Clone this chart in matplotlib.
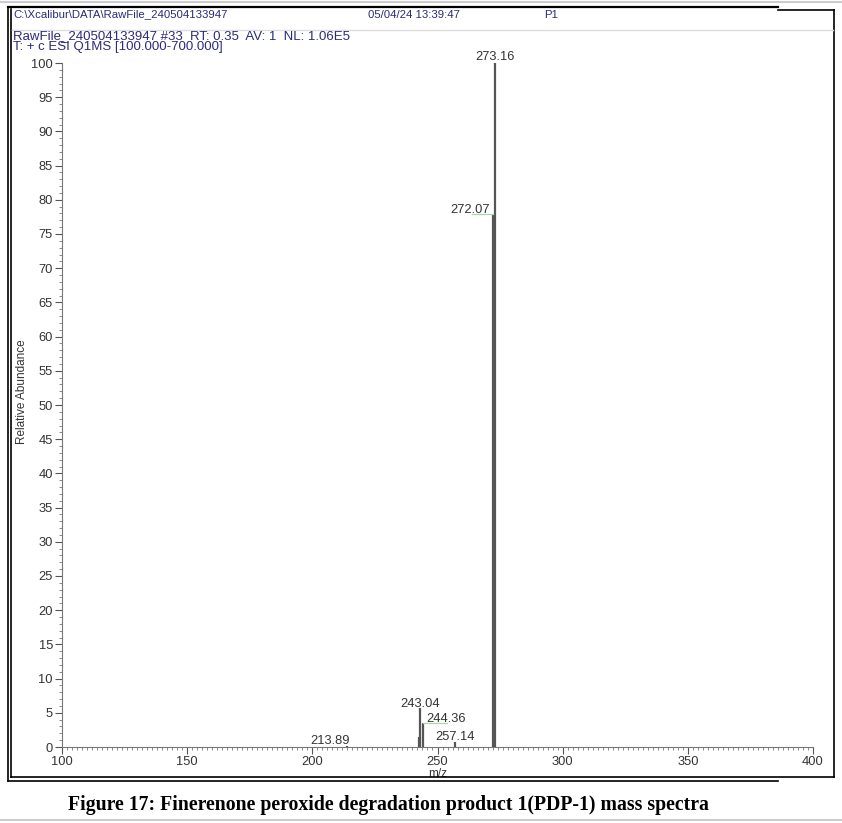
import matplotlib
matplotlib.use("Agg")
import matplotlib.pyplot as plt
from matplotlib.lines import Line2D
from matplotlib.ticker import MultipleLocator

# ---- data ----
mz = [213.89, 242.60, 243.04, 244.36, 257.14, 272.07, 273.16]
abundance = [0.2, 1.5, 5.7, 3.5, 0.7, 77.9, 100.0]
peak_labels = ["213.89", "", "243.04", "244.36", "257.14", "272.07", "273.16"]
label_dx = [-6.8, 0, 0, 9.0, 0.0, -9.0, 0]     # label offsets (m/z units)
label_dy = [0.24, 0, 0.15, 0.15, 0.32, 0.15, 0.37]
x_ticks = [100, 150, 200, 250, 300, 350, 400]
y_ticks = list(range(0, 101, 5))
header_path = "C:\\Xcalibur\\DATA\\RawFile_240504133947"
header_date = "05/04/24 13:39:47"
header_page = "P1"
scan_line1 = "RawFile_240504133947 #33  RT: 0.35  AV: 1  NL: 1.06E5"
scan_line2 = "T: + c ESI Q1MS [100.000-700.000]"
caption = "Figure 17: Finerenone peroxide degradation product 1(PDP-1) mass spectra"

W, H = 842, 823
fig = plt.figure(figsize=(W / 100, H / 100), dpi=100)
plt.rcParams['font.family'] = ['Liberation Sans', 'DejaVu Sans']

def fx(px):
    return px / W

def fy(py):
    return 1 - py / H

def seg(x0, y0, x1, y1, **kw):
    fig.add_artist(Line2D([fx(x0), fx(x1)], [fy(y0), fy(y1)], **kw))

# page lines and frames
seg(0, 2, W, 2, color="#cccccc", lw=1.5)
seg(0, 820, W, 820, color="#cccccc", lw=1.5)
# inner (screenshot) frame: top, left, bottom
seg(8, 7, 778, 7, color="black", lw=1.6)
seg(8, 7, 8, 781, color="black", lw=1.2)
seg(8, 781, 778, 781, color="black", lw=1.2)
# outer frame
seg(778, 9.5, 834, 9.5, color="black", lw=1.2)
seg(834, 9.5, 834, 777, color="black", lw=1.2)
seg(11, 777, 834, 777, color="black", lw=1.2)
seg(11, 9, 11, 777, color="black", lw=1.2)
seg(12, 30, 833, 30, color="#dddddd", lw=1.0)

hdr_color = "#2b2b7a"
fig.text(fx(13), fy(14.5), header_path, fontsize=8.2, color=hdr_color, va="center")
fig.text(fx(368), fy(14.5), header_date, fontsize=8.2, color=hdr_color, va="center")
fig.text(fx(544), fy(14.5), header_page, fontsize=8.2, color=hdr_color, va="center")
fig.text(fx(13), fy(36), scan_line1, fontsize=9.5, color=hdr_color, va="center")
fig.text(fx(13), fy(47), scan_line2, fontsize=9.5, color=hdr_color, va="center")

fig.text(fx(388), fy(805), caption, fontsize=14.2, fontweight="bold",
         family="Liberation Serif", ha="center", va="center")

ax = fig.add_axes([fx(62), fy(747), fx(813 - 62), (747 - 63) / H])
ax.set_xlim(100, 400)
ax.set_ylim(0, 100)
ax.vlines(mz, 0, abundance, colors="#555555", lw=1.6)

for m, a, lab, dx, dy in zip(mz, abundance, peak_labels, label_dx, label_dy):
    if lab:
        ax.text(m + dx, a + dy, lab, fontsize=9.3, ha="center", va="baseline",
                color="#333333", clip_on=False)

# green label leaders
ax.plot([244.36, 253.8], [3.55, 3.55], color="#a8d8a8", lw=0.9, clip_on=False)
ax.plot([263.7, 272.07], [77.95, 77.95], color="#a8d8a8", lw=0.9, clip_on=False)

ax.set_xticks(x_ticks)
ax.set_yticks(y_ticks)
ax.xaxis.set_minor_locator(MultipleLocator(2))
ax.yaxis.set_minor_locator(MultipleLocator(1))
ax.tick_params(axis="both", which="major", direction="out", length=5, width=0.8,
               labelsize=9.3, pad=1.5, colors="#555555", labelcolor="#333333")
ax.tick_params(axis="both", which="minor", direction="out", length=2, width=0.6, colors="#777777")
ax.spines["top"].set_visible(False)
ax.spines["right"].set_visible(False)
ax.spines["left"].set_color("#777777")
ax.spines["bottom"].set_color("#777777")
ax.set_xlabel("m/z", fontsize=8.5, labelpad=0, color="#333333")
ax.set_ylabel("Relative Abundance", fontsize=8.5, color="#333333")
ax.yaxis.set_label_coords(-0.045, 0.519)

fig.savefig("out.png", dpi=100)
